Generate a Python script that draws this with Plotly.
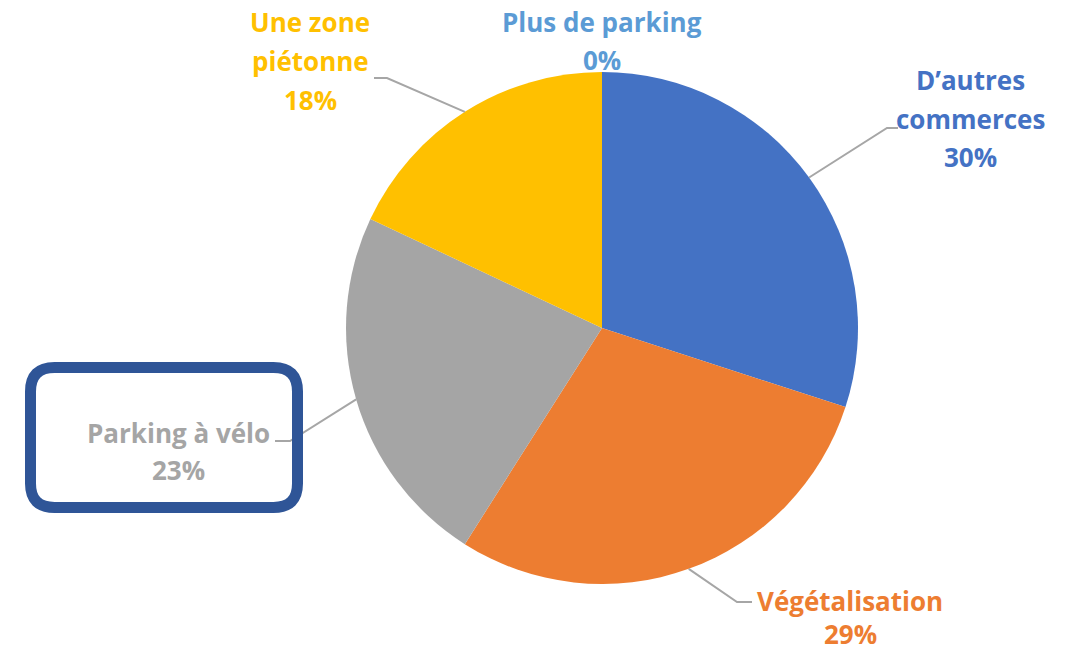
import math
import plotly.graph_objects as go

# ---- data ----
categories = ["D’autres commerces", "Végétalisation", "Parking à vélo", "Une zone piétonne", "Plus de parking"]
values = [30, 29, 23, 18, 0]
slice_colors = ["#4472C4", "#ED7D31", "#A5A5A5", "#FFC000", "#5B9BD5"]
label_lines = [["D’autres", "commerces"], ["Végétalisation"], ["Parking à vélo"], ["Une zone", "piétonne"], ["Plus de parking"]]

W, H = 1082, 652
CX, CY, R = 602, 328, 256

# label layout (pixel): centre x, first-line y, line step
label_pos = [(970, 80, 38.5), (850, 601, 33), (178, 433, 37), (310, 22, 39), (602, 22, 38)]
# leader elbow and end points (pixel); None -> no leader
leaders = [((887, 128), (898, 128)), ((737, 602), (752, 602)), ((290, 441), (275, 441)), ((387, 78), (374, 78)), None]

def px(x):
    return x / W

def py(y):
    return 1 - y / H

fig = go.Figure(go.Pie(
    labels=categories, values=values, sort=False, direction="clockwise", rotation=0,
    marker=dict(colors=slice_colors, line=dict(width=0)),
    textinfo="none", hoverinfo="label+percent", showlegend=False,
    domain=dict(x=[px(CX - R), px(CX + R)], y=[py(CY + R), py(CY - R)]),
))

annotations = []
shapes = []
total = sum(values)
cum = 0
for i, (cat, v) in enumerate(zip(categories, values)):
    mid = (cum + v / 2) / total * 2 * math.pi
    cum += v
    lx, ly, step = label_pos[i]
    lines = label_lines[i] + [f"{round(v / total * 100)}%"]
    for j, t in enumerate(lines):
        annotations.append(dict(
            x=px(lx), y=py(ly + j * step), xref="paper", yref="paper",
            text=f"<b>{t}</b>", showarrow=False, xanchor="center", yanchor="middle",
            borderpad=0,
            font=dict(family="Open Sans", size=26, color=slice_colors[i]),
        ))
    if leaders[i] is not None:
        ex = CX + R * math.sin(mid)
        ey = CY - R * math.cos(mid)
        (bx, by), (tx, ty) = leaders[i]
        path = f"M {px(ex)},{py(ey)} L {px(bx)},{py(by)} L {px(tx)},{py(ty)}"
        shapes.append(dict(type="path", xref="paper", yref="paper", path=path,
                           line=dict(color="#A6A6A6", width=2)))

# rounded highlight box around "Parking à vélo"
x0, y0, x1, y1, rr = 30.5, 367.5, 297.5, 507.5, 24
pts = [
    ("M", (x0 + rr, y0)), ("L", (x1 - rr, y0)), ("Q", (x1, y0), (x1, y0 + rr)),
    ("L", (x1, y1 - rr)), ("Q", (x1, y1), (x1 - rr, y1)), ("L", (x0 + rr, y1)),
    ("Q", (x0, y1), (x0, y1 - rr)), ("L", (x0, y0 + rr)), ("Q", (x0, y0), (x0 + rr, y0)),
]
p = ""
for cmd, *cs in pts:
    p += cmd + " " + " ".join(f"{px(a)},{py(b)}" for a, b in cs) + " "
p += "Z"
shapes.append(dict(type="path", xref="paper", yref="paper", path=p,
                   line=dict(color="#2F5597", width=11), fillcolor="rgba(0,0,0,0)"))

fig.update_layout(
    width=W, height=H, margin=dict(l=0, r=0, t=0, b=0),
    paper_bgcolor="white", plot_bgcolor="white",
    annotations=annotations, shapes=shapes,
)
fig.write_html("out.html", config={"displayModeBar": False},
               post_script="document.body.style.margin='0';document.body.style.overflow='hidden';")
